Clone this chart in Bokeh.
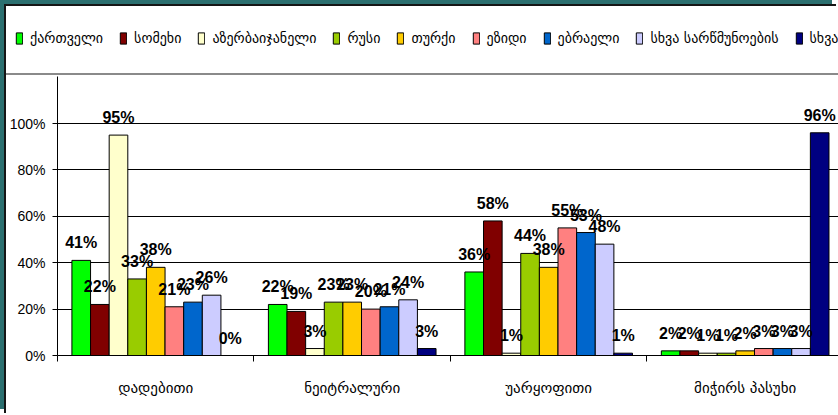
from bokeh.plotting import figure
from bokeh.layouts import column
from bokeh.models import (Range1d, FixedTicker, Legend, LegendItem, ColumnDataSource,
                          LabelSet, PrintfTickFormatter)
from bokeh.embed import file_html
from bokeh.resources import INLINE
from bokeh.core.properties import value

# ---------------- data ----------------
categories = ["დადებითი", "ნეიტრალური", "უარყოფითი", "მიჭირს პასუხი"]
series = ["ქართველი", "სომეხი", "აზერბაიჯანელი", "რუსი", "თურქი",
          "ეზიდი", "ებრაელი", "სხვა სარწმუნოების", "სხვა"]

kartveli = [41, 22, 36, 2]
somekhi = [22, 19, 58, 2]
azerbaijaneli = [95, 3, 1, 1]
rusi = [33, 23, 44, 1]
turqi = [38, 23, 38, 2]
ezidi = [21, 20, 55, 3]
ebraeli = [23, 21, 53, 3]
skhva_sarts = [26, 24, 48, 3]
skhva = [0, 3, 1, 96]

values = [kartveli, somekhi, azerbaijaneli, rusi, turqi, ezidi, ebraeli, skhva_sarts, skhva]
colors = ["#00FF00", "#800000", "#FFFFCC", "#99CC00", "#FFCC00",
          "#FF8080", "#0066CC", "#CCCCFF", "#000080"]

y_ticks = [0, 20, 40, 60, 80, 100]

# ---------------- styles ----------------
NUM_FONT = "Liberation Sans, Arial, sans-serif"
GEO_FONT = "DejaVu Sans"
TEAL = "#2B6F6F"
W = 832

# ---------------- main chart ----------------
p = figure(width=W, height=339,
           x_range=Range1d(0, 3.975), y_range=Range1d(0, 120.26),
           output_backend="svg", toolbar_location=None,
           min_border_left=49, min_border_right=0,
           min_border_top=0, min_border_bottom=60)
p.frame_align = False
p.outline_line_color = None
p.background_fill_color = "white"
p.border_fill_color = "white"

n = len(series)
bw = 0.0948
for j, (name, vals, col) in enumerate(zip(series, values, colors)):
    xs = [i + 0.5 + (j - (n - 1) / 2) * bw for i in range(len(categories))]
    src = ColumnDataSource(dict(x=xs, top=vals, label=[f"{v}%" for v in vals]))
    p.vbar(x="x", top="top", width=bw, source=src, fill_color=col,
           line_color="black", line_width=1)
    lbl = LabelSet(x="x", y="top", text="label", source=src,
                   text_align="center", text_baseline="bottom", y_offset=9,
                   text_font=value(NUM_FONT), text_font_style="bold",
                   text_font_size="16px", text_color="black")
    p.add_layout(lbl)

# y axis
p.yaxis.ticker = FixedTicker(ticks=y_ticks)
p.yaxis.formatter = PrintfTickFormatter(format="%d%%")
p.yaxis.major_tick_out = 5
p.yaxis.major_tick_in = 0
p.yaxis.minor_tick_out = 0
p.yaxis.minor_tick_in = 0
p.yaxis.axis_line_color = "black"
p.yaxis.major_tick_line_color = "black"
p.yaxis.major_label_text_font = NUM_FONT
p.yaxis.major_label_text_font_size = "14px"
p.yaxis.major_label_text_color = "black"
p.yaxis.major_label_standoff = 7

p.ygrid.ticker = FixedTicker(ticks=y_ticks)
p.ygrid.grid_line_color = "black"
p.ygrid.grid_line_width = 1
p.xgrid.visible = False

# x axis
centers = [i + 0.5 for i in range(len(categories))]
bounds = [float(i) for i in range(len(categories) + 1)]
p.xaxis.ticker = FixedTicker(ticks=centers, minor_ticks=bounds)
p.xaxis.major_label_overrides = {c: lab for c, lab in zip(centers, categories)}
p.xaxis.major_tick_out = 0
p.xaxis.major_tick_in = 0
p.xaxis.minor_tick_out = 6
p.xaxis.minor_tick_in = 0
p.xaxis.minor_tick_line_color = "black"
p.xaxis.axis_line_color = "black"
p.xaxis.major_label_text_font = GEO_FONT
p.xaxis.major_label_text_font_size = "15px"
p.xaxis.major_label_text_color = "black"
p.xaxis.major_label_standoff = 17

# ---------------- legend strip ----------------
lf = figure(width=W, height=70, x_range=Range1d(0, 1), y_range=Range1d(0, 1),
            output_backend="svg", toolbar_location=None,
            x_axis_type=None, y_axis_type=None,
            min_border_left=0, min_border_right=0, min_border_top=0, min_border_bottom=0)
lf.frame_align = False
lf.outline_line_color = None
lf.grid.visible = False
lf.border_fill_color = "white"
lf.background_fill_color = "white"

items = []
for name, col in zip(series, colors):
    # swatch-only renderer, its single bar lies outside the visible strip
    r = lf.vbar(x=[5], top=[1], width=0.1, fill_color=col, line_color="black", line_width=1)
    items.append(LegendItem(label=name, renderers=[r]))

legend = Legend(items=items, orientation="horizontal", location=(-18, 1),
                margin=0, padding=25, spacing=16,
                glyph_width=8, glyph_height=14, label_height=20, label_standoff=7,
                label_text_font=GEO_FONT, label_text_font_size="14px",
                label_text_color="black",
                border_line_color="#151515", border_line_width=2,
                background_fill_color="white", background_fill_alpha=1.0)
lf.add_layout(legend, "center")

layout = column(lf, p, spacing=0,
                styles={"margin-left": "6px", "margin-top": "6px",
                        "box-shadow": f"-2px -2px 0 0 #151515, -6px -6px 0 0 {TEAL}"})

open("out.html", "w").write(file_html(layout, INLINE))
